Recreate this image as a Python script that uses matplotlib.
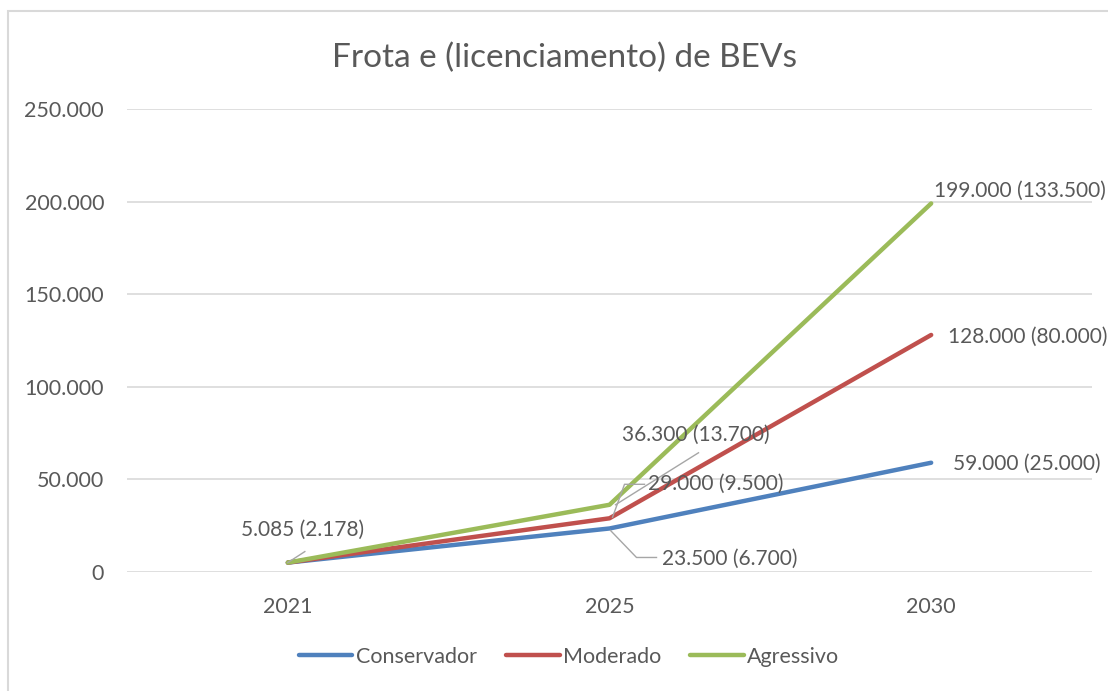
import matplotlib
matplotlib.use("Agg")
import matplotlib.pyplot as plt
from matplotlib.patches import Rectangle
from matplotlib.ticker import FuncFormatter

plt.rcParams['font.family'] = ['Lato', 'DejaVu Sans']

years = ["2021", "2025", "2030"]
series_names = ["Conservador", "Moderado", "Agressivo"]
frota_conservador = [5085, 23500, 59000]
frota_moderado = [5085, 29000, 128000]
frota_agressivo = [5085, 36300, 199000]
lic_conservador = [2178, 6700, 25000]
lic_moderado = [2178, 9500, 80000]
lic_agressivo = [2178, 13700, 133500]
yticks = [0, 50000, 100000, 150000, 200000, 250000]

colors = ["#4F81BD", "#C0504D", "#9BBB59"]
text_color = "#595959"
grid_color = "#D9D9D9"
leader_color = "#A6A6A6"

W, H = 1108, 691
fig = plt.figure(figsize=(W / 100, H / 100), dpi=100)

# chart frame (extends past the right and bottom edges)
fig.patches.append(Rectangle((8 / W, -0.1), 1.2, (H - 11) / H + 0.1,
                             transform=fig.transFigure, fill=False,
                             edgecolor="#D9D9D9", linewidth=1.5))

ax = fig.add_axes([127 / W, (H - 572) / H, 965 / W, 463 / H])
x = list(range(len(years)))
frota = [frota_conservador, frota_moderado, frota_agressivo]
lic = [lic_conservador, lic_moderado, lic_agressivo]

for vals, c, name in zip(frota, colors, series_names):
    ax.plot(x, vals, color=c, linewidth=3.2, label=name,
            solid_capstyle="round", solid_joinstyle="round", zorder=3)

ax.set_xlim(-0.5, 2.5)
ax.set_ylim(0, 250000)
ax.set_yticks(yticks)
ax.yaxis.set_major_formatter(FuncFormatter(lambda v, p: f"{int(v):,}".replace(",", ".")))
ax.set_xticks(x)
ax.set_xticklabels(years)
ax.grid(axis="y", color=grid_color, linewidth=1.2)
ax.set_axisbelow(True)
for s in ax.spines.values():
    s.set_visible(False)
ax.tick_params(length=0, labelsize=15.5, colors=text_color)
ax.tick_params(axis="y", pad=16.5)
ax.tick_params(axis="x", pad=18)

LABEL_SIZE = 15


def fmt(v):
    return f"{v:,}".replace(",", ".")


def label(i, s, dx, dy, leader=None):
    v = frota[s][i]
    txt = f"{fmt(v)} ({fmt(lic[s][i])})"
    ax.annotate(txt, xy=(i, v), xytext=(dx, dy), textcoords="offset pixels",
                ha="left", va="center", fontsize=LABEL_SIZE, color=text_color,
                zorder=5, annotation_clip=False)
    if leader:
        ox, oy = ax.transData.transform((i, v))
        px = [ox + p[0] for p in leader]
        py = [oy + p[1] for p in leader]
        ax.plot(px, py, color=leader_color, linewidth=1.0, transform=None, zorder=4)


# 2021 (shared value)
label(0, 2, -47, 33, leader=[(0, 0), (17, 11)])
# 2025
label(1, 0, 53, -30, leader=[(1, -2), (27, -29), (47, -29)])
label(1, 1, 38, 34, leader=[(3, 1), (15, 34), (35, 34)])
label(1, 2, 12, 70, leader=[(6, 0), (89, 52)])
# 2030
label(2, 2, 3, 13)
label(2, 1, 17, -2)
label(2, 0, 22, -1)

fig.text(565 / W, 1 - 58 / H, "Frota e (licenciamento) de BEVs", ha="center", va="center",
         fontsize=24, color=text_color)

leg = fig.legend(loc="center", bbox_to_anchor=(569 / W, 1 - 657 / H), ncol=3,
                 frameon=False, fontsize=15.5, handlelength=2.5, handletextpad=0.15,
                 columnspacing=1.35)
for t in leg.get_texts():
    t.set_color(text_color)

fig.savefig("out.png", dpi=100)
